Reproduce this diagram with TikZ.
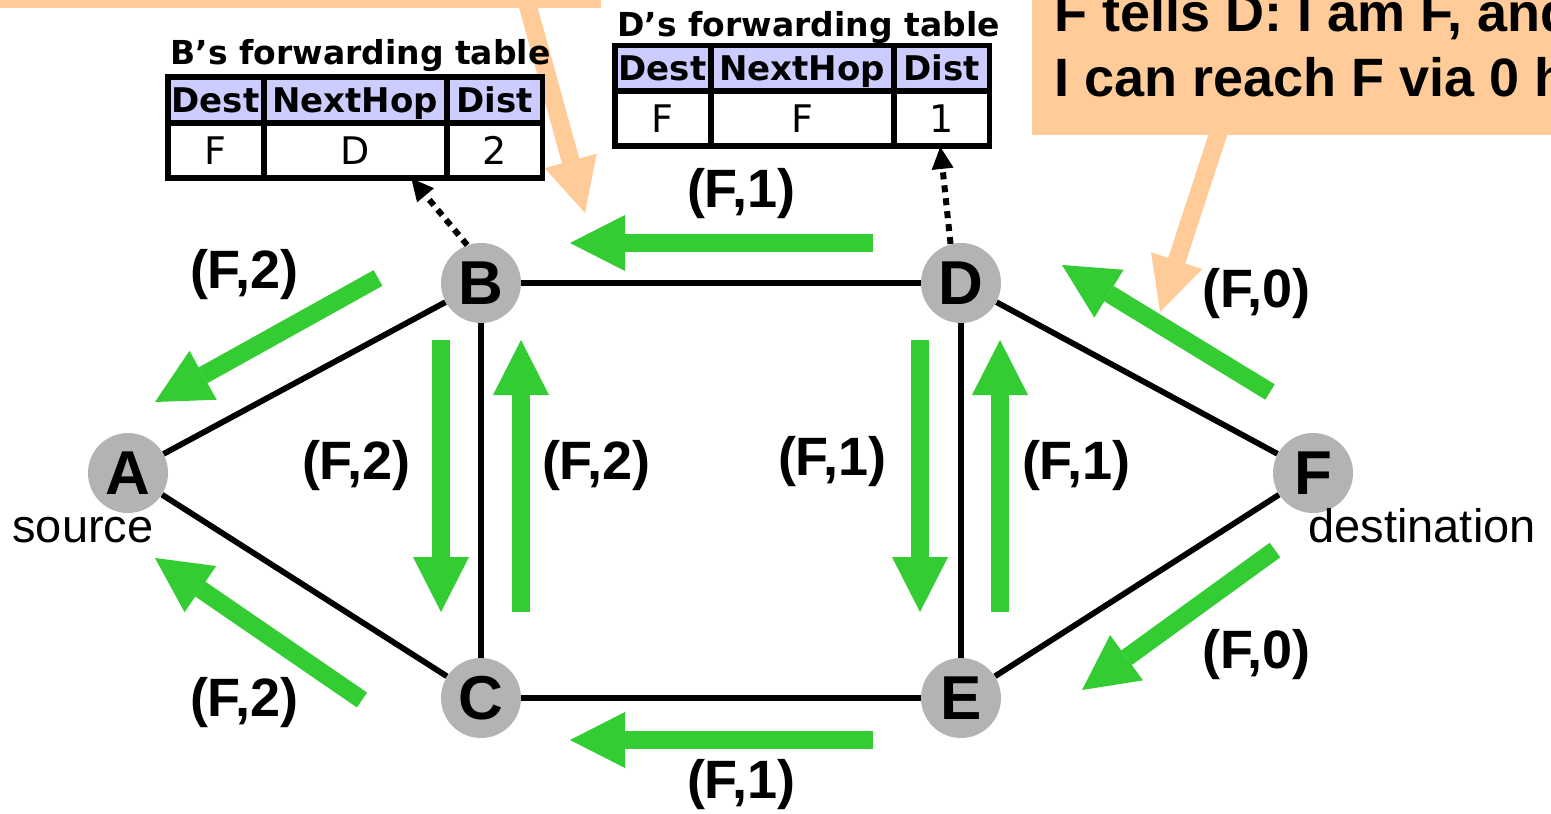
\documentclass[tikz,border=0pt]{standalone}
\usepackage{fontspec}
\newfontfamily\arialf{Liberation Sans}
\newfontfamily\tahf{DejaVu Sans}
\usepackage{tikz}
\usetikzlibrary{positioning,arrows.meta,calc,matrix}
\definecolor{updgreen}{HTML}{33CC33}
\definecolor{peach}{HTML}{FFCC99}
\definecolor{hdrblue}{HTML}{CCCCFF}
\definecolor{nodegray}{HTML}{B3B3B3}
\tikzset{
  router/.style={circle,fill=nodegray,minimum size=40pt,inner sep=0pt,
    font=\arialf\bfseries\fontsize{31}{31}\selectfont},
  link/.style={line width=2.9pt},
  adv/.style={draw=updgreen,line width=9pt,
    -{Triangle[length=27.5pt,width=28pt,line width=0pt]}},
  advlbl/.style={font=\arialf\bfseries\fontsize{27}{27}\selectfont,inner sep=0pt},
  tag/.style={font=\arialf\fontsize{23.5}{23.5}\selectfont,inner sep=0pt},
  note/.style={fill=peach,inner sep=0pt},
  noteptr/.style={draw=peach,line width=9pt,
    -{Triangle[length=27pt,width=27pt,line width=0pt]}},
  tabptr/.style={line width=3pt,dash pattern=on 3.5pt off 3pt,
    -{Triangle[length=11pt,width=11pt,line width=0pt]}},
  fwdtab/.style={matrix of nodes,inner sep=0pt,column sep=0pt,row sep=0pt,
    nodes={draw,line width=1.5pt,inner sep=0pt,anchor=center,
      font=\tahf\fontsize{19}{19}\selectfont,minimum height=26pt,
      text height=13.9pt,text depth=0pt},
    row 1/.style={nodes={fill=hdrblue,minimum height=21.5pt,text height=12.4pt,
      font=\tahf\bfseries\fontsize{17}{17}\selectfont}},
    column 1/.style={nodes={minimum width=46.5pt}},
    column 2/.style={nodes={minimum width=90pt}},
    column 3/.style={nodes={minimum width=46.5pt}}},
  tabframe/.style={line width=2.5pt},
  tabtitle/.style={font=\tahf\bfseries\fontsize{16.5}{16.5}\selectfont,
    inner sep=0pt,anchor=base west},
}
\begin{document}
\begin{tikzpicture}[x=0.5pt,y=-0.5pt]
  \useasboundingbox (0,0) rectangle (1551,813);
  \clip (0,0) rectangle (1551,813);
  % callouts (partly off the page)
  \node[note,anchor=south west,minimum width=300.5pt,minimum height=30pt] (lnote) at (0,8) {};
  \coordinate (ltip) at (585,213);
  \draw[noteptr] ($(lnote.south west)+(524,-16)$) -- (ltip);
  \node[note,anchor=south west,align=left,inner xsep=11pt,inner ysep=13.3pt,
    font=\arialf\bfseries\fontsize{27}{32.5}\selectfont] (rnote) at (1032,135)
    {F tells D: I am F, and\\I can reach F via 0 hops};
  \coordinate (rtip) at (1160,312);
  \draw[noteptr] ($(rnote.south west)+(189,-10)$) -- (rtip);
  % routers and links
  \node[router] (A) at (128,473) {A};
  \node[router] (B) at (481,283) {B};
  \node[router] (C) at (481,698) {C};
  \node[router] (D) at (961,283) {D};
  \node[router] (E) at (961,698) {E};
  \node[router] (F) at (1313,473) {F};
  \foreach \u/\v in {A/B,A/C,B/C,B/D,C/E,D/E,D/F,E/F} \draw[link] (\u)--(\v);
  \node[tag,anchor=base] (src) at (83,542) {source};
  \node[tag,anchor=base west] (dst) at (1308,542) {destination};
  % advertisements
  \foreach \s/\sx/\sy/\t/\tx/\ty in {D/-88/-40/B/89/-40, E/-88/42/C/89/42,
      B/-103/-5/A/27/-71, C/-119/2/A/27/85, B/-40/57/C/-40/-86, C/40/-86/B/40/57,
      D/-41/57/E/-41/-86, E/39/-86/D/39/57, F/-43/-81/D/101/-18, F/-38/77/E/121/-8}
    \draw[adv] ($(\s)+(\sx,\sy)$) -- ($(\t)+(\tx,\ty)$);
  \foreach \n/\x/\y/\d in {lbd/741/194/1, lba/244/275/2, lfd/1256/294/0,
      lbc/356/466/2, lcb/596/466/2, lde/832/462/1, led/1076/466/1,
      lca/244/703/2, lfe/1256/655/0, lec/741/785/1}
    \node[advlbl] (\n) at (\x,\y) {(F,\d)};
  % forwarding tables
  \matrix (btab) [fwdtab] at (355,127.5) {Dest & NextHop & Dist \\ F & D & 2 \\};
  \draw[tabframe] (btab.north west) rectangle (btab.south east);
  \node[tabtitle] (btitle) at ($(btab.north west)+(3,-12)$) {B’s forwarding table};
  \matrix (dtab) [fwdtab] at (802,96) {Dest & NextHop & Dist \\ F & F & 1 \\};
  \draw[tabframe] (dtab.north west) rectangle (dtab.south east);
  \node[tabtitle] (dtitle) at ($(dtab.north west)+(3,-9)$) {D’s forwarding table};
  \draw[tabptr] (B.110) -- ($(btab.south west)!0.65!(btab.south east)$);
  \draw[tabptr] (D.105) -- ($(dtab.south west)!0.868!(dtab.south east)$);
\end{tikzpicture}
\end{document}
